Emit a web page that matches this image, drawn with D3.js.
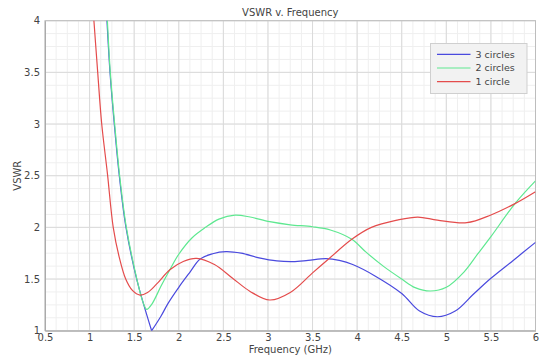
<!DOCTYPE html>
<html><head><meta charset="utf-8">
<script src="https://cdn.jsdelivr.net/npm/d3@7"></script>
<style>
html,body{margin:0;padding:0;background:#fff;}
text{font-family:"DejaVu Sans",sans-serif;fill:#444;}
</style></head>
<body><svg id="c" width="550" height="363"></svg>
<script>
const xTicks = [0.5,1,1.5,2,2.5,3,3.5,4,4.5,5,5.5,6];
const yTicks = [1,1.5,2,2.5,3,3.5,4];
const seriesNames = ["3 circles","2 circles","1 circle"];

const blueF = [1.19,1.229,1.277,1.333,1.408,1.528,1.696,1.8,1.88,2.0,2.12,2.24,2.38,2.53,2.7,2.9,3.1,3.28,3.45,3.65,3.8,3.95,4.2,4.5,4.7,4.9,5.1,5.3,5.5,5.75,6.0];
const blueV = [4.08,3.5,3.0,2.5,2.0,1.5,1.0,1.14,1.265,1.42,1.56,1.694,1.745,1.765,1.75,1.705,1.675,1.668,1.68,1.697,1.68,1.64,1.53,1.36,1.19,1.135,1.19,1.35,1.507,1.68,1.855];
const blueVertex = 6;

const greenF = [1.195,1.232,1.281,1.337,1.412,1.53,1.59,1.64,1.7,1.8,1.9,2.0,2.15,2.3,2.45,2.63,2.8,3.02,3.25,3.5,3.7,3.94,4.1,4.3,4.5,4.65,4.82,5.0,5.2,5.35,5.5,5.77,6.0];
const greenV = [4.08,3.5,3.0,2.5,2.0,1.5,1.3,1.207,1.26,1.43,1.59,1.74,1.9,2.0,2.08,2.118,2.10,2.055,2.025,2.006,1.975,1.885,1.76,1.62,1.50,1.417,1.384,1.42,1.57,1.74,1.91,2.23,2.45];

const redF = [1.04,1.091,1.136,1.2,1.265,1.33,1.405,1.48,1.565,1.65,1.75,1.9,2.05,2.2,2.4,2.6,2.8,3.02,3.25,3.5,3.68,3.94,4.16,4.45,4.68,4.9,5.23,5.5,5.77,6.0];
const redV = [4.1,3.5,3.0,2.52,2.0,1.72,1.5,1.39,1.345,1.37,1.45,1.59,1.67,1.70,1.64,1.51,1.38,1.297,1.37,1.56,1.694,1.885,2.0,2.07,2.10,2.07,2.045,2.12,2.23,2.345];

const colors = ["#4a4ade","#5ee890","#e44c4c"];

const svg = d3.select("#c");
const L=45, R=535.5, T=20.7, B=330.7;
const x = d3.scaleLinear().domain([0.5,6]).range([L,R]);
const y = d3.scaleLinear().domain([1,4]).range([B,T]);

// minor grid
const minorX = d3.range(0.5,6.0001,0.125), minorY = d3.range(1,4.0001,0.125);
const g = svg.append("g");
g.selectAll(".mx").data(minorX).join("line").attr("x1",d=>x(d)).attr("x2",d=>x(d)).attr("y1",T).attr("y2",B).attr("stroke","#efefef").attr("stroke-width",1);
g.selectAll(".my").data(minorY).join("line").attr("y1",d=>y(d)).attr("y2",d=>y(d)).attr("x1",L).attr("x2",R).attr("stroke","#efefef").attr("stroke-width",1);
g.selectAll(".Mx").data(xTicks).join("line").attr("x1",d=>x(d)).attr("x2",d=>x(d)).attr("y1",T).attr("y2",B).attr("stroke","#dadada").attr("stroke-width",1);
g.selectAll(".My").data(yTicks).join("line").attr("y1",d=>y(d)).attr("y2",d=>y(d)).attr("x1",L).attr("x2",R).attr("stroke","#dadada").attr("stroke-width",1);

svg.append("rect").attr("x",L).attr("y",T).attr("width",R-L).attr("height",B-T).attr("fill","none").attr("stroke","#bdbdbd").attr("stroke-width",1);

// axes (labels only)
const xa = svg.append("g").attr("transform",`translate(0,${B})`).call(d3.axisBottom(x).tickValues(xTicks).tickSize(0).tickPadding(3).tickFormat(d3.format("~g")));
const ya = svg.append("g").attr("transform",`translate(${L},0)`).call(d3.axisLeft(y).tickValues(yTicks).tickSize(0).tickPadding(5).tickFormat(d3.format("~g")));
[xa,ya].forEach(a=>{a.select(".domain").attr("stroke","#aaa");a.selectAll("text").attr("font-size","10px").attr("font-family","DejaVu Sans").attr("fill","#444");});

// clip
svg.append("clipPath").attr("id","clip").append("rect").attr("x",L).attr("y",T).attr("width",R-L).attr("height",B-T);
const line = d3.line().x(d=>x(d[0])).y(d=>y(d[1])).curve(d3.curveCatmullRom.alpha(0.5));
const lg = svg.append("g").attr("clip-path","url(#clip)");
const zip=(f,v)=>f.map((d,i)=>[d,v[i]]);
const blue = zip(blueF,blueV);
const pieces = [
  [blue.slice(0,blueVertex+1),0],[blue.slice(blueVertex),0],
  [zip(greenF,greenV),1],[zip(redF,redV),2]
];
pieces.forEach(([pts,ci])=>{
  lg.append("path").attr("d",line(pts)).attr("fill","none").attr("stroke",colors[ci]).attr("stroke-width",1.2);
});

// title & labels
svg.append("text").attr("x",(L+R)/2).attr("y",16).attr("text-anchor","middle").attr("font-size","10px").text("VSWR v. Frequency");
svg.append("text").attr("x",(L+R)/2).attr("y",353).attr("text-anchor","middle").attr("font-size","10px").text("Frequency (GHz)");
svg.append("text").attr("transform",`translate(21,${(T+B)/2}) rotate(-90)`).attr("text-anchor","middle").attr("font-size","10px").text("VSWR");

// legend
const leg = svg.append("g");
leg.append("rect").attr("x",430.5).attr("y",43.5).attr("width",96.5).attr("height",50).attr("fill","#f2f2f2").attr("stroke","#cfcfcf");
seriesNames.forEach((n,i)=>{
  const yy = 54.3 + i*13.7;
  leg.append("line").attr("x1",437).attr("x2",470.5).attr("y1",yy).attr("y2",yy).attr("stroke",colors[i]).attr("stroke-width",1.2);
  leg.append("text").attr("x",475.5).attr("y",yy+3.4).attr("font-size","9.5px").text(n);
});
</script></body></html>
